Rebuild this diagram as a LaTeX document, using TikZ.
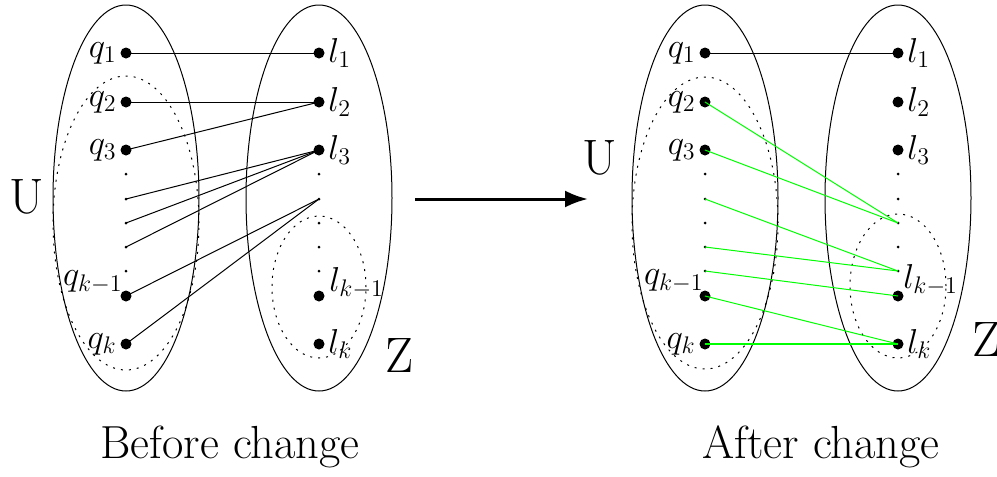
\documentclass[tikz,border=0pt]{standalone}
\usepackage{tikz}
\usetikzlibrary{arrows.meta, positioning}

\begin{document}
\begin{tikzpicture}[x=0.5pt, y=-0.5pt, >=Latex,
  bigdot/.style={circle, fill, inner sep=0pt, minimum size=5.5pt},
  smalldot/.style={circle, fill, inner sep=0pt, minimum size=1.5pt},
  lbl/.style={font=\fontsize{16.4}{20}\selectfont, inner sep=1.5pt},
  setname/.style={font=\Huge, inner sep=0pt},
  caption/.style={font=\fontsize{23.2}{28}\selectfont, anchor=base},
  region/.style={draw, line width=0.5pt},
  subregion/.style={draw, line width=0.5pt, dash pattern=on 1pt off 3pt},
  match/.style={line width=0.5pt},
  newmatch/.style={line width=0.5pt, green}]

  \useasboundingbox (0,0) rectangle (997,477);

  \draw[region] (126,198) ellipse [x radius=36.5pt, y radius=96.5pt];
  \draw[region] (319,198) ellipse [x radius=36.5pt, y radius=96.5pt];
  \draw[subregion] (126,223) ellipse [x radius=36.5pt, y radius=73.5pt];
  \draw[subregion] (319,287) ellipse [x radius=23.5pt, y radius=35.5pt];

  \draw[region] (705,198) ellipse [x radius=36.5pt, y radius=96.5pt];
  \draw[region] (898,198) ellipse [x radius=36.5pt, y radius=96.5pt];
  \draw[subregion] (705,223) ellipse [x radius=36.5pt, y radius=73pt];
  \draw[subregion] (898,286) ellipse [x radius=24pt, y radius=36pt];

  \node[bigdot, label={[lbl]left:$q_1$}] (bq1) at (126,53) {};
  \node[bigdot, label={[lbl]left:$q_2$}] (bq2) at (126,102) {};
  \node[bigdot, label={[lbl]left:$q_3$}] (bq3) at (126,150) {};
  \node[smalldot] (bq5) at (126,174) {};
  \node[smalldot] (bq6) at (126,199) {};
  \node[smalldot] (bq7) at (126,223) {};
  \node[smalldot] (bq8) at (126,247) {};
  \node[smalldot] (bq9) at (126,271) {};
  \node[bigdot] (bqk1) at (126,296) {};
  \node[bigdot, label={[lbl]left:$q_k$}] (bqk) at (126,344) {};
  \node[lbl, anchor=east, inner sep=0pt] (bqk1name) at (123,282) {$q_{k-1}$};

  \node[bigdot, label={[lbl]right:$l_1$}] (bl1) at (319,53) {};
  \node[bigdot, label={[lbl]right:$l_2$}] (bl2) at (319,102) {};
  \node[bigdot, label={[lbl]right:$l_3$}] (bl3) at (319,150) {};
  \node[smalldot] (bl5) at (319,174) {};
  \node[smalldot] (bl6) at (319,199) {};
  \node[smalldot] (bl7) at (319,223) {};
  \node[smalldot] (bl8) at (319,247) {};
  \node[smalldot] (bl9) at (319,271) {};
  \node[bigdot] (blk1) at (319,296) {};
  \node[bigdot, label={[lbl]right:$l_k$}] (blk) at (319,344) {};
  \node[lbl, anchor=west, inner sep=0pt] (blk1name) at (329,283) {$l_{k-1}$};

  \node[bigdot, label={[lbl]left:$q_1$}] (aq1) at (705,53) {};
  \node[bigdot, label={[lbl]left:$q_2$}] (aq2) at (705,102) {};
  \node[bigdot, label={[lbl]left:$q_3$}] (aq3) at (705,150) {};
  \node[smalldot] (aq5) at (705,174) {};
  \node[smalldot] (aq6) at (705,199) {};
  \node[smalldot] (aq7) at (705,223) {};
  \node[smalldot] (aq8) at (705,247) {};
  \node[smalldot] (aq9) at (705,271) {};
  \node[bigdot] (aqk1) at (705,296) {};
  \node[bigdot, label={[lbl]left:$q_k$}] (aqk) at (705,344) {};
  \node[lbl, anchor=east, inner sep=0pt] (aqk1name) at (704,281) {$q_{k-1}$};

  \node[bigdot, label={[lbl]right:$l_1$}] (al1) at (898,53) {};
  \node[bigdot, label={[lbl]right:$l_2$}] (al2) at (898,102) {};
  \node[bigdot, label={[lbl]right:$l_3$}] (al3) at (898,150) {};
  \node[smalldot] (al5) at (898,174) {};
  \node[smalldot] (al6) at (898,199) {};
  \node[smalldot] (al7) at (898,223) {};
  \node[smalldot] (al8) at (898,247) {};
  \node[smalldot] (al9) at (898,271) {};
  \node[bigdot] (alk1) at (898,296) {};
  \node[bigdot, label={[lbl]right:$l_k$}] (alk) at (898,344) {};
  \node[lbl, anchor=west, inner sep=0pt] (alk1name) at (903,280) {$l_{k-1}$};

  \node[setname] (bset1) at (27,197) {U};
  \node[setname] (bset2) at (400,356) {Z};
  \node[setname] (aset1) at (600,158) {U};
  \node[setname] (aset2) at (986,340) {Z};

  \node[caption] (bcap) at (230,458) {Before change};
  \node[caption] (acap) at (821,458) {After change};

  \coordinate (arrowstart) at (415,199);
  \coordinate (arrowend) at (588,199);

  \draw[match] (bq1.center) -- (bl1.center);
  \draw[match] (bq2.center) -- (bl2.center);
  \draw[match] (bq3.center) -- (bl2.center);
  \draw[match] (bq6.center) -- (bl3.center);
  \draw[match] (bq7.center) -- (bl3.center);
  \draw[match] (bq8.center) -- (bl3.center);
  \draw[match] (bqk1.center) -- (bl6.center);
  \draw[match] (bqk.center) -- (bl6.center);

  \draw[match] (aq1.center) -- (al1.center);
  \draw[newmatch] (aq2.center) -- (al7.center);
  \draw[newmatch] (aq3.center) -- (al7.center);
  \draw[newmatch] (aq6.center) -- (al9.center);
  \draw[newmatch] (aq8.center) -- (al9.center);
  \draw[newmatch] (aq9.center) -- (alk1.center);
  \draw[newmatch] (aqk1.center) -- (alk.center);
  \draw[newmatch, line width=1pt] (aqk.center) -- (alk.center);

  \draw[-{Latex[length=11.5pt, width=8.5pt]}, line width=1.5pt] (arrowstart) -- (arrowend);
\end{tikzpicture}
\end{document}
